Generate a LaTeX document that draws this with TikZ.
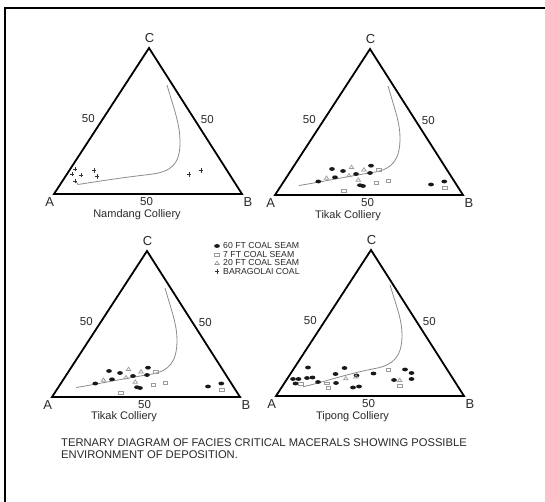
\documentclass[tikz,border=0pt]{standalone}
\usepackage{fontspec}
\setmainfont{Liberation Sans}
\usetikzlibrary{calc}
\definecolor{txt}{HTML}{2A2A2A}
\definecolor{mk}{HTML}{9A9A9A}
\tikzset{
  triline/.style={line width=1.8pt, line join=miter, draw=black},
  facies/.style={draw=black!45, line width=0.8pt},
  lblbig/.style={inner sep=0pt, text=txt, font=\fontsize{13}{15}\selectfont},
  numlbl/.style={inner sep=0pt, text=txt, font=\fontsize{11.5}{13}\selectfont},
  namelbl/.style={inner sep=0pt, text=txt, font=\fontsize{11}{13}\selectfont},
  leglbl/.style={inner sep=0pt, anchor=west, text=txt, font=\fontsize{8.7}{10}\selectfont},
  caplbl/.style={inner sep=0pt, anchor=west, text=txt, font=\fontsize{11.2}{13}\selectfont},
  blkpt/.pic={\fill[black!90] (0,0) ellipse (2.9 and 1.9);},
  sqpt/.pic={\draw[mk, line width=0.7pt] (-2.2,-1.4) rectangle (2.2,1.4);},
  tript/.pic={\draw[mk, line width=0.7pt] (-2.2,1.5) -- (2.2,1.5) -- (0,-1.8) -- cycle;},
  pluspt/.pic={\draw[black!80, line width=0.9pt] (-2.2,0) -- (2.2,0) (0,-2.2) -- (0,2.2);}
}
\newcommand\ternfr[4]{%
  \draw[triline] (0,0) coordinate (#1A) -- (188,0) coordinate (#1B) -- (95,-146) coordinate (#1C) -- cycle;
  \node[lblbig] (#1la) at (-4.3,7.6) {A};
  \node[lblbig] (#1lb) at (194,7.6) {B};
  \node[lblbig] (#1lc) at (95.5,-155.5) {C};
  \node[numlbl] (#1nl) at (34.3,-75.2) {50};
  \node[numlbl] (#1nr) at (153.3,-74.2) {50};
  \node[numlbl] (#1nb) at (92.5,7.5) {50};
  \node[namelbl] (#1nm) at (#3,#4) {#2};
}
\begin{document}
\begin{tikzpicture}[x=1pt,y=-1pt]
\useasboundingbox (0,0) rectangle (545,502);
\fill[white] (0,0) rectangle (545,502);
% frame
\draw[line width=1.6pt] (5,502) -- (5,8) -- (545,8);

% ---------- T1 Namdang
\begin{scope}[shift={(54,194)}]
  \ternfr{a}{Namdang Colliery}{83}{21}
  \draw[facies] (113,-109) .. controls (120,-85) and (126,-70) .. (126,-52)
     .. controls (126,-30) and (118,-22) .. (95,-19.5)
     .. controls (65,-16) and (40,-12) .. (24,-9.5) -- (22,-12.5);
  \foreach \p in {(21,-25),(18,-20),(27,-19),(21,-13),(40,-23.5),(43,-17.5),(135,-19.5),(147,-23.5)}
    \path \p pic{pluspt};
\end{scope}

% ---------- T2 Tikak
\begin{scope}[shift={(275,195)}]
  \ternfr{b}{Tikak Colliery}{73}{21}
  \draw[facies] (113,-109) .. controls (120,-85) and (125,-72) .. (125,-57)
     .. controls (125,-35) and (117,-26) .. (100,-23)
     .. controls (70,-18) and (40,-12) .. (24,-9.5);
  \foreach \p in {(57,-26),(68,-24),(81,-21),(96,-29.3),(95,-22),(60,-17.7),(43.3,-13.5),(85,-9.8),(88,-9),(156,-10.5),(169.3,-13.5)}
    \path \p pic{blkpt};
  \foreach \p in {(104,-25.5),(101.5,-12),(113.5,-13.8),(69,-4.5),(169.8,-7.3)}
    \path \p pic{sqpt};
  \foreach \p in {(76.5,-28),(51.5,-17.2),(74,-19.7),(83.3,-15.3),(89,-25.5)}
    \path \p pic{tript};
\end{scope}

% ---------- T3 Tikak
\begin{scope}[shift={(52,397)}]
  \ternfr{c}{Tikak Colliery}{72}{20}
  \draw[facies] (113,-109) .. controls (120,-85) and (125,-72) .. (125,-57)
     .. controls (125,-35) and (117,-26) .. (100,-23)
     .. controls (70,-18) and (40,-12) .. (24,-9.5);
  \foreach \p in {(57,-26),(68,-24),(81,-21),(96,-29.3),(95,-22),(60,-17.7),(43.3,-13.5),(85,-9.8),(88,-9),(156,-10.5),(169.3,-13.5)}
    \path \p pic{blkpt};
  \foreach \p in {(104,-25.5),(101.5,-12),(113.5,-13.8),(69,-4.5),(169.8,-7.3)}
    \path \p pic{sqpt};
  \foreach \p in {(76.5,-28),(51.5,-17.2),(74,-19.7),(83.3,-15.3),(89,-25.5)}
    \path \p pic{tript};
\end{scope}

% ---------- T4 Tipong
\begin{scope}[shift={(276,396)}]
  \ternfr{d}{Tipong Colliery}{76.5}{20.7}
  \draw[facies] (114,-111) .. controls (121,-88) and (126,-76) .. (126,-61)
     .. controls (126,-40) and (118,-31) .. (99,-27.5)
     .. controls (70,-22) and (45,-13) .. (27,-9.3);
  \foreach \p in {(17,-17),(22.5,-17),(19.5,-12.5),(31,-18),(36.5,-18.5),(42,-14),(60,-13),(59.5,-22),(32,-28.5),(68.5,-28),(80.5,-20.5),(77,-8.5),(83,-9.5),(97.5,-22.5),(129,-26.5),(135.5,-23),(135.5,-17),(118,-16)}
    \path \p pic{blkpt};
  \foreach \p in {(50.7,-12.7),(52.5,-8.3),(112.6,-26),(123.7,-10),(25,-12)}
    \path \p pic{sqpt};
  \foreach \p in {(69.8,-17.7),(80,-19.5),(123.7,-16)}
    \path \p pic{tript};
\end{scope}

% ---------- legend
\path (217,246) pic{blkpt};
\path (217,254.5) pic{sqpt};
\path (217,263) pic{tript};
\path (217,271.5) pic{pluspt};
\node[leglbl] (lg1) at (223,246) {60 FT COAL SEAM};
\node[leglbl] (lg2) at (223,254.5) {7 FT COAL SEAM};
\node[leglbl] (lg3) at (223,263) {20 FT COAL SEAM};
\node[leglbl] (lg4) at (223,271.5) {BARAGOLAI COAL};

% ---------- caption
\node[caplbl] (cap1) at (61,442.7) {TERNARY DIAGRAM OF FACIES CRITICAL MACERALS SHOWING POSSIBLE};
\node[caplbl] (cap2) at (61,455) {ENVIRONMENT OF DEPOSITION.};
\end{tikzpicture}
\end{document}
